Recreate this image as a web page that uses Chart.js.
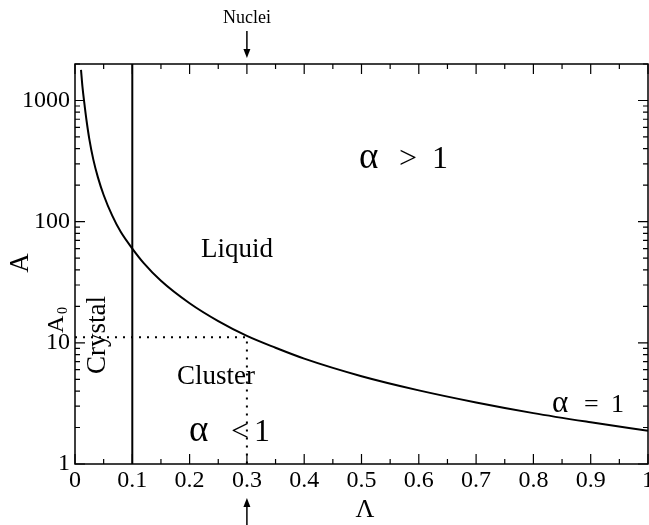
<!DOCTYPE html>
<html lang="en">
<head>
    <meta charset="UTF-8">
    <title>A vs Lambda phase diagram</title>
    <script src="https://cdn.jsdelivr.net/npm/chart.js@4.4.1/dist/chart.umd.min.js"></script>
    <style>
        body { margin: 0; background: #fff; }
        canvas { display: block; }
    </style>
</head>
<body>
    <canvas id="chart" width="649" height="525"></canvas>
    <script>
        // Values
        const lambdaValues = [0.0105, 0.013, 0.0163, 0.02, 0.025, 0.032, 0.04, 0.05, 0.065, 0.08,
                              0.1, 0.12, 0.15, 0.2, 0.25, 0.3, 0.35, 0.4, 0.5, 0.6, 0.7, 0.8, 0.9, 1.0];
        const aValues = [1790, 1300, 950, 690, 480, 325, 232, 166, 112, 82,
                         60, 45.5, 32.5, 21.2, 15.1, 11.4, 9.1, 7.4, 5.3, 4.05, 3.22, 2.63, 2.21, 1.88];
        const crystalLine = [{ x: 0.1, y: 1 }, { x: 0.1, y: 2000 }];
        const nucleiLine = [{ x: 0, y: 11.1 }, { x: 0.3, y: 11.1 }, { x: 0.3, y: 1 }];
        const xTicks = [0, 0.1, 0.2, 0.3, 0.4, 0.5, 0.6, 0.7, 0.8, 0.9, 1];
        const yTicks = [1, 10, 100, 1000];

        const serif = '"Liberation Serif", "Times New Roman", serif';
        const font = (size) => size + 'px ' + serif;

        // frame, inward ticks and labels (xmgrace look)
        const decor = {
            id: 'decor',
            afterDraw(chart) {
                const { ctx, chartArea: a, scales: { x, y } } = chart;
                ctx.save();
                ctx.strokeStyle = '#000';
                ctx.fillStyle = '#000';
                ctx.lineWidth = 1.5;
                ctx.strokeRect(a.left, a.top, a.right - a.left, a.bottom - a.top);

                ctx.lineWidth = 1.2;
                ctx.beginPath();
                for (let i = 0; i <= 20; i++) {
                    const px = x.getPixelForValue(i / 20);
                    const len = i % 2 ? 5 : 10;
                    ctx.moveTo(px, a.bottom); ctx.lineTo(px, a.bottom - len);
                    ctx.moveTo(px, a.top); ctx.lineTo(px, a.top + len);
                }
                yTicks.forEach(d => {
                    for (let m = 1; m <= 9; m++) {
                        const v = m * d;
                        if (v > y.max) break;
                        const py = y.getPixelForValue(v);
                        const len = m === 1 ? 10 : 5;
                        ctx.moveTo(a.left, py); ctx.lineTo(a.left + len, py);
                        ctx.moveTo(a.right, py); ctx.lineTo(a.right - len, py);
                    }
                });
                ctx.stroke();

                // arrows marking Nuclei
                const ax = x.getPixelForValue(0.3);
                const arrow = (y0, y1) => {
                    const dir = Math.sign(y1 - y0);
                    ctx.lineWidth = 1.5;
                    ctx.beginPath();
                    ctx.moveTo(ax, y0); ctx.lineTo(ax, y1 - dir * 6);
                    ctx.stroke();
                    ctx.beginPath();
                    ctx.moveTo(ax, y1);
                    ctx.lineTo(ax - 3.5, y1 - dir * 9);
                    ctx.lineTo(ax + 3.5, y1 - dir * 9);
                    ctx.closePath();
                    ctx.fill();
                };
                arrow(31, 58);
                arrow(525, 498);

                const text = (s, size, px, py, align) => {
                    ctx.font = font(size);
                    ctx.textAlign = align || 'left';
                    ctx.textBaseline = 'alphabetic';
                    ctx.fillText(s, px, py);
                };
                const vtext = (s, size, px, py, align) => {
                    ctx.save();
                    ctx.translate(px, py);
                    ctx.rotate(-Math.PI / 2);
                    text(s, size, 0, 0, align);
                    ctx.restore();
                };

                text('Nuclei', 18, ax, 23, 'center');

                text('\u03b1', 37, 359, 168);
                text('>', 32, 399, 168);
                text('1', 32, 432, 168);

                text('\u03b1', 37, 189, 441);
                text('<', 32, 231, 441);
                text('1', 32, 254, 441);

                text('\u03b1', 31, 552, 412);
                text('=', 26, 584, 412);
                text('1', 26, 611, 412);

                text('Liquid', 27, 201, 257);
                text('Cluster', 27, 177, 384);
                vtext('Crystal', 27, 105, 335, 'center');

                // axis titles
                vtext('A', 27, 28, 263, 'center');
                vtext('A', 24, 63, 333, 'left');
                vtext('0', 14, 67, 314, 'left');
                text('\u039b', 26, 365, 517, 'center');

                ctx.restore();
            }
        };

        new Chart(document.getElementById('chart'), {
            type: 'scatter',
            data: {
                datasets: [
                    {
                        data: lambdaValues.map((v, i) => ({ x: v, y: aValues[i] })),
                        showLine: true,
                        borderColor: '#000',
                        borderWidth: 2,
                        pointRadius: 0,
                        cubicInterpolationMode: 'monotone'
                    },
                    {
                        data: crystalLine,
                        showLine: true,
                        borderColor: '#000',
                        borderWidth: 2,
                        pointRadius: 0
                    },
                    {
                        data: nucleiLine,
                        showLine: true,
                        borderColor: '#000',
                        borderWidth: 2,
                        borderDash: [2, 6],
                        pointRadius: 0
                    }
                ]
            },
            options: {
                responsive: false,
                animation: false,
                layout: { padding: { top: 64, right: 1, left: 0, bottom: 0 } },
                plugins: {
                    legend: { display: false },
                    tooltip: { enabled: false }
                },
                scales: {
                    x: {
                        type: 'linear',
                        min: 0,
                        max: 1,
                        grid: { display: false, drawTicks: false },
                        border: { display: false },
                        afterBuildTicks: s => { s.ticks = xTicks.map(v => ({ value: v })); },
                        afterFit: s => { s.height = 61; s.paddingLeft = 0; s.paddingRight = 0; },
                        ticks: {
                            padding: 2,
                            color: '#000',
                            font: { family: serif, size: 24 },
                            maxRotation: 0,
                            autoSkip: false,
                            callback: v => (v === 0 || v === 1) ? String(v) : v.toFixed(1)
                        }
                    },
                    y: {
                        type: 'logarithmic',
                        min: 1,
                        max: 2000,
                        grid: { display: false, drawTicks: false },
                        border: { display: false },
                        afterBuildTicks: s => { s.ticks = yTicks.map(v => ({ value: v })); },
                        afterFit: s => { s.width = 75; s.paddingTop = 0; s.paddingBottom = 0; },
                        ticks: {
                            padding: 5,
                            color: '#000',
                            font: { family: serif, size: 24 },
                            autoSkip: false,
                            callback: v => String(v)
                        }
                    }
                }
            },
            plugins: [decor]
        });
    </script>
</body>
</html>
